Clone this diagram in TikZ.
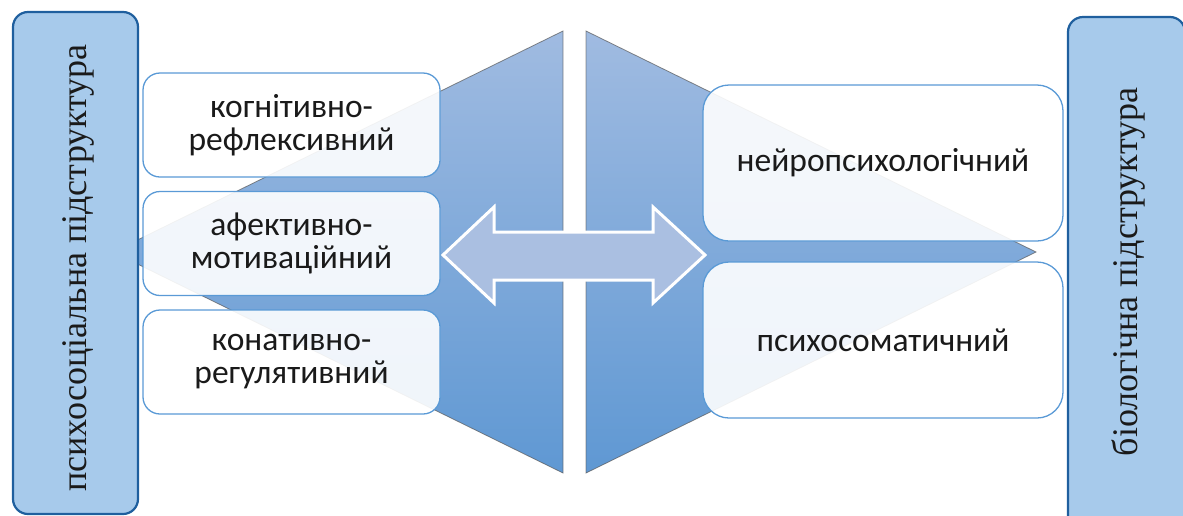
\documentclass[tikz,border=0pt]{standalone}
\usepackage{fontspec}
\setmainfont{Liberation Serif}
\newfontfamily\tallfont{Liberation Serif}
\newfontfamily\boxfont{Carlito}
\definecolor{tallfill}{HTML}{A7CAEB}
\definecolor{talldraw}{HTML}{1F5F9E}
\definecolor{boxdraw}{HTML}{5A9AD6}
\definecolor{tritop}{HTML}{A0BBE1}
\definecolor{tribot}{HTML}{5F98D3}
\definecolor{arrowfill}{HTML}{AABFE1}
\definecolor{txt}{HTML}{1A1A1A}
\begin{document}
\begin{tikzpicture}[x=1pt,y=-1pt,
  tallbox/.style={draw=talldraw, line width=2.2pt, fill=tallfill, rounded corners=15pt, inner sep=0pt},
  talltext/.style={rotate=90, inner sep=0pt, font=\tallfont\fontsize{36}{40}\selectfont, text=txt},
  leftbox/.style={draw=boxdraw, line width=1.3pt, fill=white, fill opacity=0.9, text opacity=1,
    rounded corners=17pt, minimum width=297pt, minimum height=104pt, inner sep=0pt,
    align=center, font=\boxfont\fontsize{33.5}{33}\selectfont, text=txt},
  rightbox/.style={leftbox, rounded corners=26pt, minimum width=360pt, minimum height=156pt},
  triedge/.style={draw=black!65, line width=0.8pt, draw opacity=0.7, line join=miter},
  arrowshape/.style={fill=arrowfill, draw=white, line width=3pt, line join=miter}
]
\useasboundingbox (0,0) rectangle (1183,515);

% triangles
\coordinate (lt) at (563,31);
\coordinate (lb) at (563,473);
\coordinate (la) at (113,252);
\coordinate (rt) at (586,31);
\coordinate (rb) at (586,473);
\coordinate (ra) at (1036,252);
\shade[top color=tritop, bottom color=tribot] (lt) -- (lb) -- (la) -- cycle;
\shade[top color=tritop, bottom color=tribot] (rt) -- (rb) -- (ra) -- cycle;
\draw[triedge] (la) -- (lt) -- (lb) -- cycle;
\draw[triedge] (ra) -- (rt) -- (rb) -- cycle;

% tall boxes
\node[tallbox, minimum width=125pt, minimum height=502pt] (ltall) at (75.5,263) {};
\node[talltext] (ltext) at (78,268) {психосоціальна підструктура};
\node[tallbox, minimum width=117pt, minimum height=513pt] (rtall) at (1126.5,273.5) {};
\node[talltext] (rtext) at (1128,272) {біологічна підструктура};

% left boxes
\node[leftbox] (b1) at (291.5,125) {когнітивно-\\рефлексивний};
\node[leftbox] (b2) at (291.5,243.5) {афективно-\\мотиваційний};
\node[leftbox] (b3) at (291.5,362) {конативно-\\регулятивний};

% right boxes
\node[rightbox] (r1) at (883,163) {нейропсихологічний};
\node[rightbox] (r2) at (883,340) {психосоматичний};

% double arrow
\coordinate (al) at (443,255);
\coordinate (ar) at (705,255);
\path[arrowshape] (al) -- (494,207) -- (494,232) -- (653,232) -- (653,207) -- (ar)
  -- (653,303) -- (653,280) -- (494,280) -- (494,303) -- cycle;
\end{tikzpicture}
\end{document}
